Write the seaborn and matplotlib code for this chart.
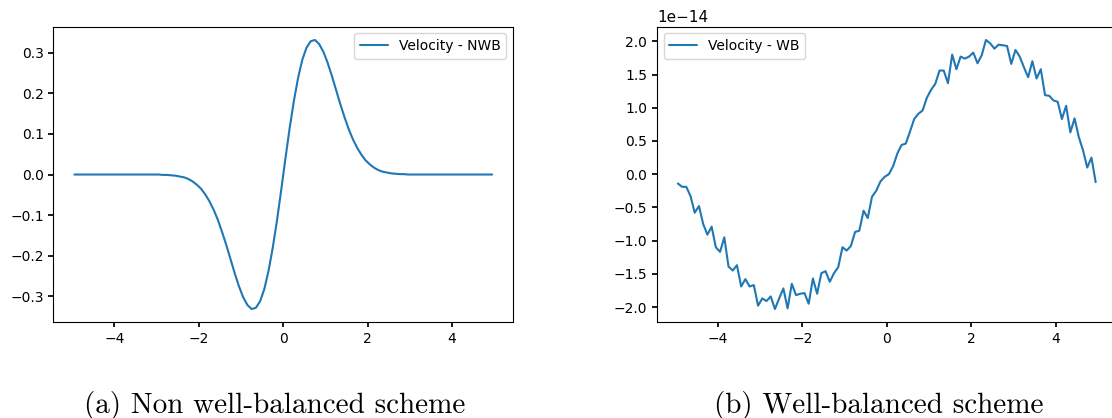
import numpy as np
import pandas as pd
import matplotlib
matplotlib.use("Agg")
import matplotlib.pyplot as plt
import seaborn as sns

# cell centres of the 1D grid
x_cells = np.round(np.arange(-4.95, 4.96, 0.1), 2)

# (a) non well-balanced scheme : velocity
vel_nwb = [
    0.0, 0.0, 0.0, 0.0, 0.0, 0.0, 0.0, 0.0, 0.0, 0.0,
    0.0, 0.0, 0.0, 0.0, 0.0, 0.0, 0.0, 0.0, 0.0, 0.0,
    -0.000, -0.001, -0.001, -0.002, -0.003, -0.005, -0.007, -0.011, -0.017, -0.025,
    -0.035, -0.049, -0.066, -0.087, -0.112, -0.142, -0.174, -0.209, -0.244, -0.276,
    -0.303, -0.322, -0.332, -0.329, -0.313, -0.283, -0.238, -0.181, -0.114, -0.039,
    0.039, 0.114, 0.181, 0.238, 0.283, 0.313, 0.329, 0.332, 0.322, 0.303,
    0.276, 0.244, 0.209, 0.174, 0.142, 0.112, 0.087, 0.066, 0.049, 0.035,
    0.025, 0.017, 0.011, 0.007, 0.005, 0.003, 0.002, 0.001, 0.001, 0.000,
    0.0, 0.0, 0.0, 0.0, 0.0, 0.0, 0.0, 0.0, 0.0, 0.0,
    0.0, 0.0, 0.0, 0.0, 0.0, 0.0, 0.0, 0.0, 0.0, 0.0,
]

# (b) well-balanced scheme : velocity in units of 1e-14
vel_wb = [
    -0.14, -0.19, -0.19, -0.33, -0.58, -0.48, -0.75, -0.91, -0.79, -1.10,
    -1.17, -0.95, -1.39, -1.45, -1.37, -1.69, -1.58, -1.69, -1.67, -1.98,
    -1.87, -1.91, -1.84, -2.03, -1.87, -1.72, -2.02, -1.65, -1.82, -1.80,
    -1.79, -1.95, -1.57, -1.80, -1.49, -1.46, -1.62, -1.49, -1.40, -1.10,
    -1.15, -1.08, -0.87, -0.85, -0.55, -0.66, -0.34, -0.25, -0.11, -0.04,
    0.00, 0.12, 0.31, 0.44, 0.46, 0.64, 0.83, 0.91, 0.96, 1.15,
    1.27, 1.36, 1.56, 1.56, 1.37, 1.80, 1.58, 1.77, 1.74, 1.77,
    1.83, 1.67, 1.79, 2.02, 1.97, 1.89, 1.95, 1.94, 1.93, 1.66,
    1.87, 1.77, 1.61, 1.46, 1.70, 1.44, 1.58, 1.19, 1.18, 1.11,
    1.09, 0.83, 1.03, 0.63, 0.84, 0.56, 0.36, 0.10, 0.25, -0.12,
]
wb_scale = 1e-14

captions = ["(a) Non well-balanced scheme", "(b) Well-balanced scheme"]
labels = ["Velocity - NWB", "Velocity - WB"]

sns.set_theme(style="ticks", rc={
    "axes.edgecolor": "black",
    "axes.linewidth": 0.8,
    "xtick.direction": "out",
    "ytick.direction": "out",
    "xtick.major.size": 3.5,
    "ytick.major.size": 3.5,
    "xtick.color": "black",
    "ytick.color": "black",
    "text.color": "black",
    "legend.frameon": True,
    "legend.framealpha": 0.8,
    "legend.edgecolor": "0.8",
})
plt.rcParams["font.family"] = ["DejaVu Sans"]
plt.rcParams["font.size"] = 10

df_nwb = pd.DataFrame({"x": x_cells, "v": vel_nwb})
df_wb = pd.DataFrame({"x": x_cells, "v": np.array(vel_wb) * wb_scale})

fig = plt.figure(figsize=(11.12, 4.18), dpi=100)
ax1 = fig.add_axes([0.0481, 0.2285, 0.4133, 0.708])
ax2 = fig.add_axes([0.5908, 0.2285, 0.4133, 0.708])

sns.lineplot(data=df_nwb, x="x", y="v", ax=ax1, color="#1f77b4", linewidth=1.5, label=labels[0])
sns.lineplot(data=df_wb, x="x", y="v", ax=ax2, color="#1f77b4", linewidth=1.5, label=labels[1])

for ax in (ax1, ax2):
    ax.set_xlabel("")
    ax.set_ylabel("")
    ax.set_xticks([-4, -2, 0, 2, 4])
    ax.tick_params(labelsize=10)
    for s in ax.spines.values():
        s.set_visible(True)

ax1.legend(loc="upper right", fontsize=10)
ax2.legend(loc="upper left", fontsize=10)
ax2.set_yticks(np.arange(-2.0, 2.01, 0.5) * wb_scale)

# sub-figure captions (LaTeX-like serif)
fig.text(0.247, 0.03, captions[0], family="cmr10", fontsize=21, ha="center", va="center", color="black")
fig.text(0.79, 0.03, captions[1], family="cmr10", fontsize=21, ha="center", va="center", color="black")

fig.savefig("out.png", dpi=100)
